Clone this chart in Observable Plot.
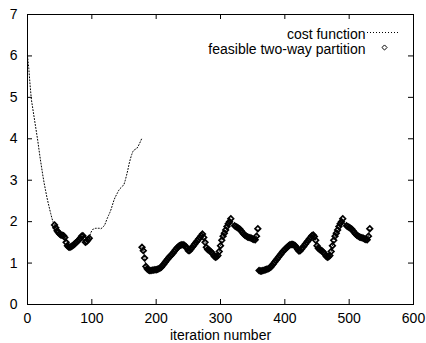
<!DOCTYPE html>
<html>
<head>
<meta charset="utf-8">
<script src="https://cdn.jsdelivr.net/npm/d3@7"></script>
<script src="https://cdn.jsdelivr.net/npm/@observablehq/plot@0.6"></script>
<style>
  html, body { margin: 0; padding: 0; background: #fff; }
  #chart svg { display: block; }
</style>
</head>
<body>
<div id="chart"></div>
<script>
// ---- data ----
const xTicks = [0, 100, 200, 300, 400, 500, 600];
const yTicks = [0, 1, 2, 3, 4, 5, 6, 7];
const seriesNames = ["cost function", "feasible two-way partition"];
const xLabel = "iteration number";

// each run of the cost function: first iteration, step between samples
const runStarts = [0, 178, 360];
const runStep = 2;

// cost function values, run 1 (iterations 0..178)
const run1 = [6.0, 5.7, 5.3, 4.95, 4.75, 4.55, 4.35, 4.15, 3.95, 3.72,
  3.5, 3.3, 3.1, 2.92, 2.76, 2.6, 2.46, 2.33, 2.2, 2.08,
  1.98, 1.92, 1.85, 1.78, 1.74, 1.7, 1.68, 1.67, 1.66, 1.62,
  1.5, 1.42, 1.39, 1.38, 1.4, 1.42, 1.44, 1.47, 1.5, 1.53,
  1.56, 1.6, 1.65, 1.66, 1.6, 1.5, 1.52, 1.56, 1.6, 1.72,
  1.78, 1.82, 1.83, 1.84, 1.84, 1.84, 1.84, 1.83, 1.85, 1.88,
  1.92, 2.0, 2.08, 2.15, 2.22, 2.3, 2.4, 2.5, 2.58, 2.64,
  2.7, 2.76, 2.8, 2.83, 2.86, 2.9, 3.0, 3.12, 3.25, 3.4,
  3.52, 3.62, 3.7, 3.73, 3.75, 3.77, 3.82, 3.88, 3.95, 4.02];
// run 2 (iterations 178..360)
const run2 = [1.38, 1.3, 1.12, 0.92, 0.86, 0.83, 0.82, 0.82, 0.83, 0.83,
  0.84, 0.84, 0.85, 0.86, 0.88, 0.9, 0.94, 0.98, 1.02, 1.06,
  1.1, 1.14, 1.17, 1.2, 1.24, 1.28, 1.32, 1.36, 1.39, 1.42,
  1.43, 1.44, 1.44, 1.43, 1.4, 1.35, 1.3, 1.3, 1.34, 1.38,
  1.42, 1.46, 1.5, 1.54, 1.58, 1.62, 1.66, 1.7, 1.62, 1.5,
  1.38, 1.33, 1.31, 1.29, 1.26, 1.22, 1.17, 1.14, 1.15, 1.18,
  1.28, 1.42, 1.55, 1.65, 1.72, 1.8, 1.88, 1.95, 2.0, 2.07,
  1.98, 1.92, 1.9, 1.88, 1.86, 1.84, 1.82, 1.78, 1.74, 1.7,
  1.67, 1.65, 1.63, 1.62, 1.61, 1.6, 1.58, 1.57, 1.56, 1.65,
  1.83];
// run 3 (iterations 360..534)
const run3 = [0.82, 0.81, 0.81, 0.82, 0.83, 0.84, 0.85, 0.86, 0.88, 0.9,
  0.94, 0.98, 1.02, 1.06, 1.1, 1.14, 1.18, 1.22, 1.26, 1.3,
  1.33, 1.36, 1.39, 1.42, 1.44, 1.45, 1.45, 1.44, 1.42, 1.38,
  1.33, 1.29, 1.3, 1.34, 1.38, 1.42, 1.46, 1.5, 1.54, 1.58,
  1.62, 1.66, 1.68, 1.64, 1.55, 1.42, 1.36, 1.33, 1.31, 1.29,
  1.26, 1.22, 1.17, 1.14, 1.15, 1.18, 1.28, 1.42, 1.55, 1.65,
  1.72, 1.8, 1.88, 1.95, 2.0, 2.07, 1.98, 1.92, 1.9, 1.88,
  1.86, 1.84, 1.82, 1.78, 1.74, 1.7, 1.67, 1.65, 1.63, 1.62,
  1.61, 1.6, 1.58, 1.57, 1.56, 1.65, 1.83];
const runs = [run1, run2, run3];
// iteration ranges (per run) where the partition was feasible
const feasible = [
  [[42, 96]],
  [[178, 316], [322, 360]],
  [[360, 490], [496, 534]]
];

// ---- build table ----
const rows = [];
runs.forEach((vals, r) => {
  vals.forEach((v, i) => {
    const it = runStarts[r] + i * runStep;
    const ok = feasible[r].some(([a, b]) => it >= a && it <= b);
    rows.push({run: r, iteration: it, cost: v, feasible: ok});
  });
});
const feasibleRows = rows.filter(d => d.feasible);

const W = 426, H = 343;
const mL = 27, mR = 13, mT = 14, mB = 39;
const frameW = W - mL - mR, frameH = H - mT - mB;
const tick = 5;
const font = "'Liberation Sans', Arial, Helvetica, sans-serif";

const legendLine = (index, scales, values, dims) => {
  const g = d3.create("svg:g");
  const xr = dims.width - dims.marginRight;
  g.append("line")
    .attr("x1", xr - 46).attr("x2", xr - 15)
    .attr("y1", dims.marginTop + 18.5).attr("y2", dims.marginTop + 18.5)
    .attr("stroke", "#000").attr("stroke-width", 1)
    .attr("stroke-dasharray", "1 2");
  return g.node();
};

const chart = Plot.plot({
  width: W, height: H,
  marginLeft: mL, marginRight: mR, marginTop: mT, marginBottom: mB,
  style: {fontFamily: font, fontSize: "14px", color: "#000", background: "#fff"},
  x: {domain: [0, 600]},
  y: {domain: [0, 7]},
  marks: [
    Plot.axisX(xTicks, {tickSize: 0, tickPadding: 9, fontSize: 14, label: null}),
    Plot.axisY(yTicks, {tickSize: 0, tickPadding: 10, fontSize: 14, label: null}),
    Plot.tickX(xTicks, {x: d => d, insetTop: frameH - tick, stroke: "#000"}),
    Plot.tickX(xTicks, {x: d => d, insetBottom: frameH - tick, stroke: "#000"}),
    Plot.tickY(yTicks, {y: d => d, insetRight: frameW - tick, stroke: "#000"}),
    Plot.tickY(yTicks, {y: d => d, insetLeft: frameW - tick, stroke: "#000"}),
    Plot.line(rows, {x: "iteration", y: "cost", z: "run", stroke: "#000",
      strokeWidth: 1, strokeDasharray: "1 2", curve: "linear"}),
    Plot.dot(feasibleRows, {x: "iteration", y: "cost", symbol: "diamond2",
      r: 2.5, stroke: "#000", fill: "none", strokeWidth: 1.7}),
    Plot.frame({stroke: "#000"}),
    Plot.text([xLabel], {frameAnchor: "bottom", dy: 35, lineAnchor: "bottom",
      fontSize: 14, fill: "#000"}),
    Plot.text([seriesNames[0]], {frameAnchor: "top-right", dx: -48, dy: 15,
      textAnchor: "end", fontSize: 14, fill: "#000"}),
    Plot.text([seriesNames[1]], {frameAnchor: "top-right", dx: -48, dy: 29.5,
      textAnchor: "end", fontSize: 14, fill: "#000"}),
    legendLine,
    Plot.dot([seriesNames[1]], {frameAnchor: "top-right", dx: -29, dy: 33,
      symbol: "diamond2", r: 2.3, stroke: "#000", fill: "none", strokeWidth: 1})
  ]
});
document.getElementById("chart").appendChild(chart);
</script>
</body>
</html>
